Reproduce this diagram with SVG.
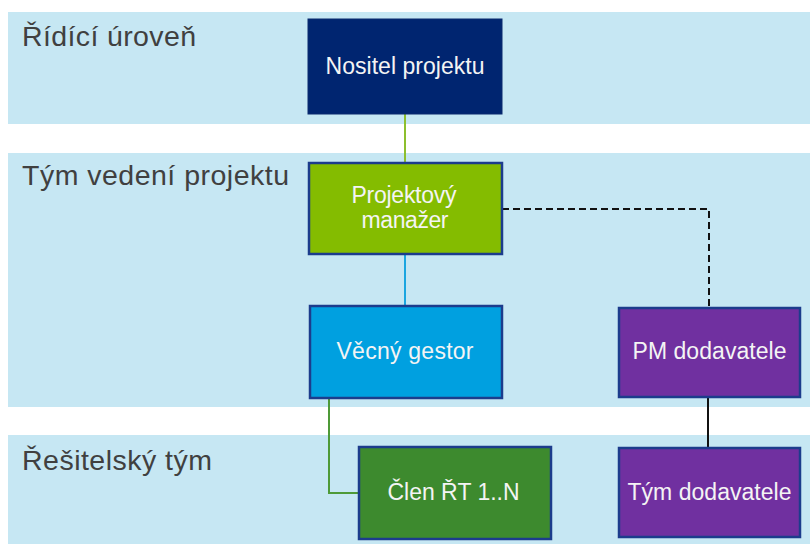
<svg xmlns="http://www.w3.org/2000/svg" width="810" height="544" viewBox="0 0 810 544">
  <style>
    .band { fill: #C6E7F3; }
    .lane { font-family: "Liberation Sans", Arial, sans-serif; font-size: 28.5px; fill: #404040; }
    .box { stroke: #1C3C8C; stroke-width: 2.5; }
    .lbl { font-family: "Liberation Sans", Arial, sans-serif; font-size: 23px; fill: #F4F4F4; text-anchor: middle; }
    .wire { fill: none; stroke-width: 2; }
  </style>

  <rect width="810" height="544" fill="#FFFFFF"/>

  <!-- swimlane bands -->
  <g id="lanes">
    <rect class="band" x="8" y="12" width="802" height="112"/>
    <rect class="band" x="8" y="153" width="802" height="254"/>
    <rect class="band" x="8" y="435" width="802" height="109"/>
    <text class="lane" x="22" y="46" textLength="174" lengthAdjust="spacing">Řídící úroveň</text>
    <text class="lane" x="22" y="185" textLength="267" lengthAdjust="spacing">Tým vedení projektu</text>
    <text class="lane" x="22" y="470" textLength="190" lengthAdjust="spacing">Řešitelský tým</text>
  </g>

  <!-- connectors -->
  <g id="connectors">
    <line class="wire" x1="405" y1="114" x2="405" y2="162" stroke="#8DBF2E"/>
    <line class="wire" x1="405" y1="254" x2="405" y2="305" stroke="#1BA6E0"/>
    <polyline class="wire" points="329,398 329,493 358,493" stroke="#4E9A38"/>
    <polyline class="wire" points="502,209 709,209 709,307" stroke="#111111" stroke-width="2.5" stroke-dasharray="7,4"/>
    <line class="wire" x1="708" y1="397" x2="708" y2="447" stroke="#111111" stroke-width="2.5"/>
  </g>

  <g id="nositel-projektu">
    <rect x="308" y="19" width="194" height="95" fill="#002570" stroke="#0A2A6E" stroke-width="1"/>
    <text class="lbl" x="405" y="74" textLength="159" lengthAdjust="spacing">Nositel projektu</text>
  </g>

  <g id="projektovy-manazer">
    <rect class="box" x="309" y="163" width="193" height="91" fill="#84BC00"/>
    <text class="lbl" x="404" y="203" textLength="105" lengthAdjust="spacing">Projektový</text>
    <text class="lbl" x="405" y="228" textLength="87" lengthAdjust="spacing">manažer</text>
  </g>

  <g id="vecny-gestor">
    <rect class="box" x="310" y="306" width="192" height="92" fill="#00A0E0"/>
    <text class="lbl" x="405" y="359" textLength="137" lengthAdjust="spacing">Věcný gestor</text>
  </g>

  <g id="pm-dodavatele">
    <rect class="box" x="619" y="308" width="181" height="89" fill="#7030A0"/>
    <text class="lbl" x="709.5" y="359" textLength="154" lengthAdjust="spacing">PM dodavatele</text>
  </g>

  <g id="clen-rt">
    <rect class="box" x="359" y="447" width="192" height="92" fill="#3D8A2E"/>
    <text class="lbl" x="453.5" y="500" textLength="132" lengthAdjust="spacing">Člen ŘT 1..N</text>
  </g>

  <g id="tym-dodavatele">
    <rect class="box" x="619" y="448" width="181" height="89" fill="#7030A0"/>
    <text class="lbl" x="709.5" y="500" textLength="164" lengthAdjust="spacing">Tým dodavatele</text>
  </g>
</svg>
